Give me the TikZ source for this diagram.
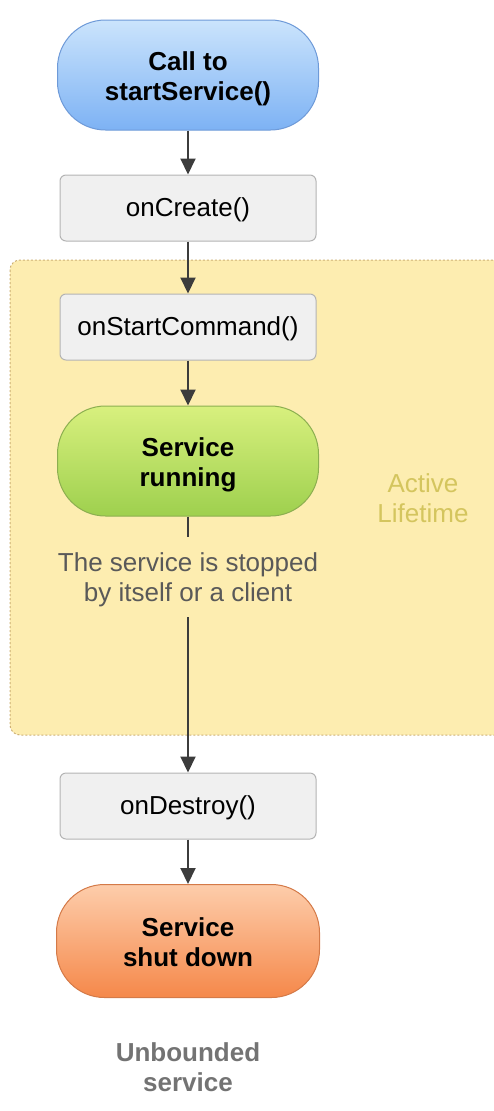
\documentclass[tikz,border=0pt]{standalone}
\usepackage{fontspec}
\setmainfont{Liberation Sans}
\usetikzlibrary{arrows.meta,shapes.misc}
\definecolor{bluetop}{HTML}{CBE4FC}
\definecolor{bluebot}{HTML}{7DB2F4}
\definecolor{blueline}{HTML}{6E9AD8}
\definecolor{greentop}{HTML}{D8F07E}
\definecolor{greenbot}{HTML}{9ED04E}
\definecolor{greenline}{HTML}{8CAF50}
\definecolor{orangetop}{HTML}{FDCDAB}
\definecolor{orangebot}{HTML}{F5884A}
\definecolor{orangeline}{HTML}{D47A48}
\definecolor{boxfill}{HTML}{F0F0F0}
\definecolor{boxline}{HTML}{B4B4B4}
\definecolor{areafill}{HTML}{FDEDB0}
\definecolor{arealine}{HTML}{CDB075}
\definecolor{activetxt}{HTML}{D4C55E}
\definecolor{arrowcol}{HTML}{3C3C3C}
\newcommand{\lowtext}[2]{\raisebox{-#1}[\height][\depth]{\begin{tabular}{@{}c@{}}#2\end{tabular}}}
\tikzset{
  txt/.style={font=\fontsize{26}{30}\selectfont, align=center},
  pill/.style={txt, font=\fontsize{26}{30}\selectfont\bfseries, minimum width=261pt, minimum height=110pt, rounded corners=48pt, line width=1pt, inner sep=0pt},
  methodbox/.style={txt, draw=boxline, fill=boxfill, minimum width=256pt, minimum height=66pt, rounded corners=6pt, line width=1pt, inner sep=0pt},
  flow/.style={draw=arrowcol, line width=2pt, -{Triangle[length=16pt,width=15pt]}},
  plainline/.style={draw=arrowcol, line width=2pt}
}
\begin{document}
\begin{tikzpicture}[x=1pt,y=-1pt]
\useasboundingbox (0,0) rectangle (494,1111);
% active lifetime area
\draw[fill=areafill, draw=arealine, line width=1pt, dash pattern=on 2pt off 2pt, rounded corners=10pt] (10,260) rectangle (510,735);
\node[txt, text=activetxt] (active) at (423,498) {Active\\Lifetime};
% nodes
\node[pill, draw=blueline, top color=bluetop, bottom color=bluebot] (start) at (188,75) {\lowtext{4pt}{Call to\\startService()}};
\node[methodbox] (create) at (188,208) {\lowtext{2pt}{onCreate()}};
\node[methodbox] (command) at (188,327) {\lowtext{2pt}{onStartCommand()}};
\node[pill, draw=greenline, top color=greentop, bottom color=greenbot] (running) at (188,461) {\lowtext{4pt}{Service\\running}};
\node[txt, text=black!65, inner sep=0pt, minimum height=80pt] (stopped) at (188,577) {\lowtext{3pt}{The service is stopped\\by itself or a client}};
\node[methodbox] (destroy) at (188,806) {\lowtext{2pt}{onDestroy()}};
\node[pill, draw=orangeline, top color=orangetop, bottom color=orangebot, minimum width=263pt, minimum height=113pt] (shut) at (188,941) {\lowtext{4pt}{Service\\shut down}};
\node[txt, font=\fontsize{26}{30}\selectfont\bfseries, text=black!55] (unbounded) at (188,1067) {Unbounded\\service};
% connectors
\draw[flow] (start.south) -- (create.north);
\draw[flow] (create.south) -- (command.north);
\draw[flow] (command.south) -- (running.north);
\draw[plainline] (running.south) -- (stopped.north);
\draw[flow] (stopped.south) -- (destroy.north);
\draw[flow] (destroy.south) -- (shut.north);
\end{tikzpicture}
\end{document}
